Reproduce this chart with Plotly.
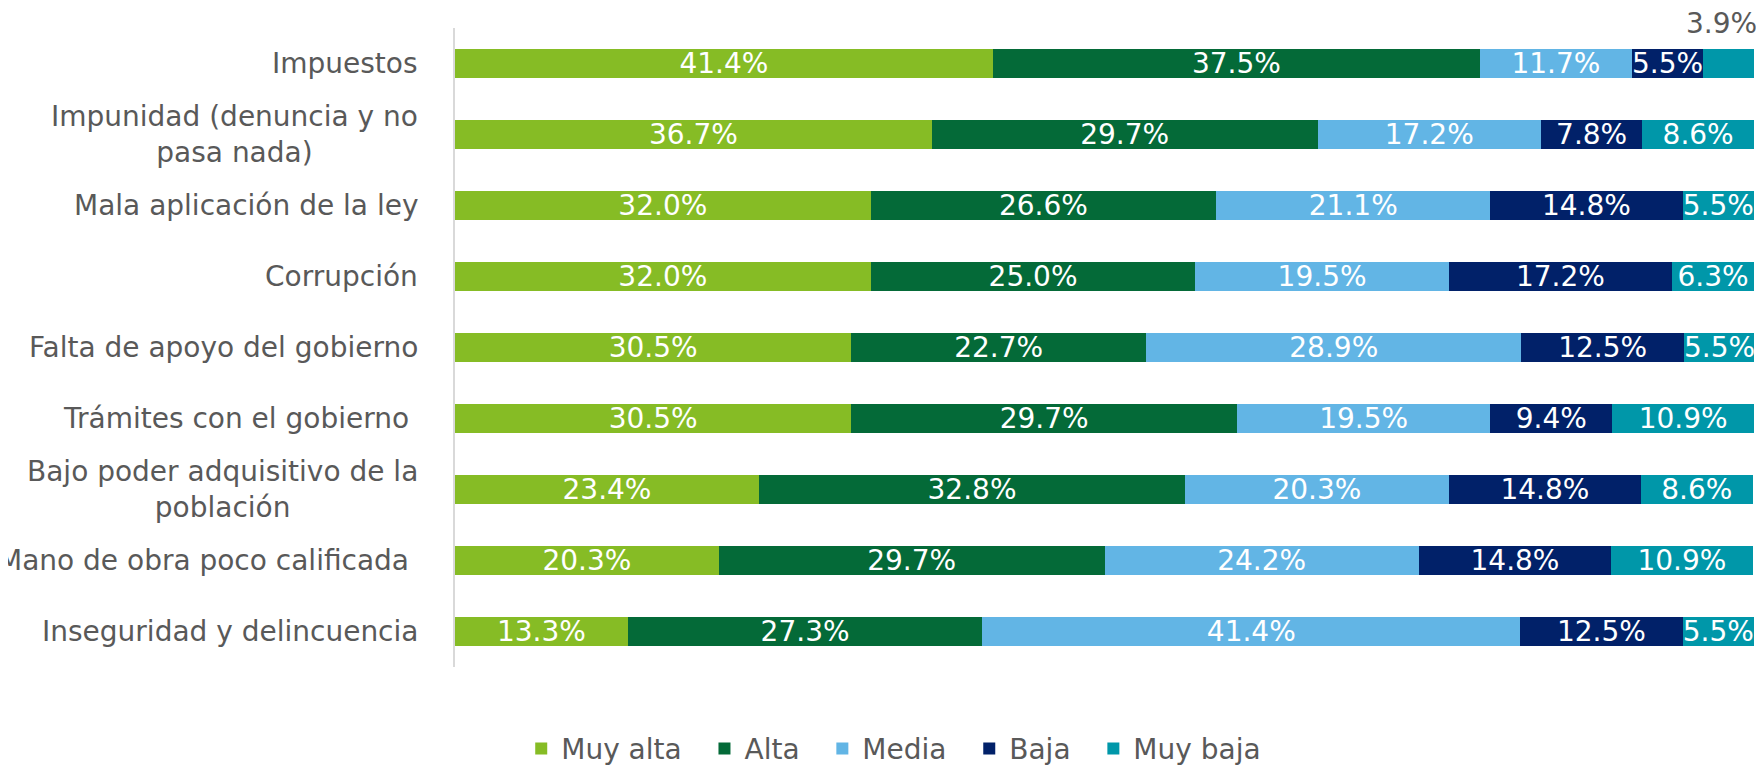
import plotly.graph_objects as go

categories = [
    "Impuestos",
    "Impunidad (denuncia y no<br>pasa nada)",
    "Mala aplicación de la ley",
    "Corrupción",
    "Falta de apoyo del gobierno",
    "Trámites con el gobierno\u00a0",
    "Bajo poder adquisitivo de la<br>población",
    "Mano de obra poco calificada\u00a0",
    "Inseguridad y delincuencia",
]
series_names = ["Muy alta", "Alta", "Media", "Baja", "Muy baja"]
muy_alta = [41.4, 36.7, 32.0, 32.0, 30.5, 30.5, 23.4, 20.3, 13.3]
alta = [37.5, 29.7, 26.6, 25.0, 22.7, 29.7, 32.8, 29.7, 27.3]
media = [11.7, 17.2, 21.1, 19.5, 28.9, 19.5, 20.3, 24.2, 41.4]
baja = [5.5, 7.8, 14.8, 17.2, 12.5, 9.4, 14.8, 14.8, 12.5]
muy_baja = [3.9, 8.6, 5.5, 6.3, 5.5, 10.9, 8.6, 10.9, 5.5]
series_values = [muy_alta, alta, media, baja, muy_baja]
colors = ["#86BC25", "#046A38", "#62B5E5", "#012169", "#0097A9"]
# labels drawn outside (above) the bar instead of inside
outside_labels = {("Muy baja", 0)}

FONT = "DejaVu Sans, Verdana, sans-serif"
GREY = "#595959"

fig = go.Figure()
for k, (name, vals, col) in enumerate(zip(series_names, series_values, colors)):
    texts = ["" if (name, i) in outside_labels else f"{v:.1f}%" for i, v in enumerate(vals)]
    # invisible padding keeps the legend spacing of the original
    legend_name = name + ("\u00a0\u00a0" if k < len(series_names) - 1 else "")
    fig.add_trace(go.Bar(
        name=legend_name, y=categories, x=vals, orientation="h",
        marker=dict(color=col, line=dict(width=0)),
        text=texts, textposition="inside", insidetextanchor="middle",
        constraintext="none", textangle=0,
        textfont=dict(family=FONT, size=28, color="white"),
        hoverinfo="skip",
    ))

# outside label(s)
for name, i in outside_labels:
    s = series_names.index(name)
    start = sum(series_values[k][i] for k in range(s))
    v = series_values[s][i]
    fig.add_annotation(
        x=start + v / 2, y=categories[i], xref="x", yref="y",
        text=f"{v:.1f}%", showarrow=False, yshift=40, xshift=-7,
        font=dict(family=FONT, size=28, color=GREY),
    )

# category labels (centered multi-line like the original)
for c in categories:
    fig.add_annotation(
        x=0, y=c, xref="paper", yref="y", text=c, showarrow=False,
        xanchor="right", yanchor="middle", align="center", xshift=-35,
        font=dict(family=FONT, size=28, color=GREY),
    )

fig.update_layout(
    barmode="stack", bargap=0.6,
    width=1756, height=759,
    margin=dict(l=447, r=10, t=20, b=100),
    paper_bgcolor="white", plot_bgcolor="white",
    font=dict(family=FONT, size=28, color=GREY),
    showlegend=True,
    legend=dict(
        orientation="h", xref="container", yref="container",
        x=0.5044, y=0.024, xanchor="center", yanchor="middle",
        font=dict(family=FONT, size=28, color=GREY),
        traceorder="normal", itemclick=False,
    ),
    xaxis=dict(range=[0, 100], visible=False, fixedrange=True),
    yaxis=dict(
        autorange="reversed", showticklabels=False, ticks="",
        showline=True, linecolor="#D9D9D9", linewidth=2,
        showgrid=False, zeroline=False,
    ),
)

fig.write_html("out.html")
